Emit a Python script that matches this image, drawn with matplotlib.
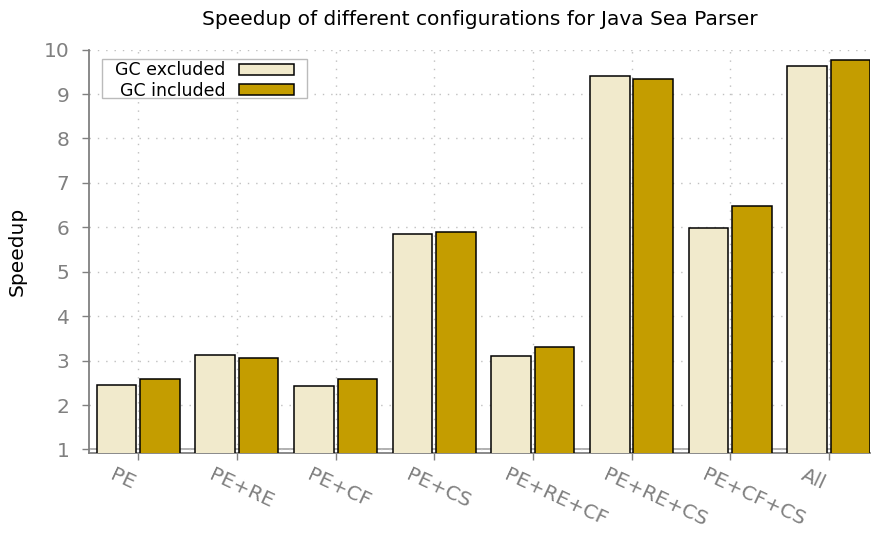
import numpy as np
import matplotlib
matplotlib.use("Agg")
import matplotlib.pyplot as plt
from matplotlib.patches import Rectangle
from matplotlib.transforms import ScaledTranslation

configs = ["PE", "PE+RE", "PE+CF", "PE+CS", "PE+RE+CF", "PE+RE+CS", "PE+CF+CS", "All"]
gc_excluded = [2.46, 3.13, 2.44, 5.85, 3.11, 9.41, 5.98, 9.62]
gc_included = [2.59, 3.06, 2.59, 5.89, 3.31, 9.34, 6.48, 9.76]
yticks = [1, 2, 3, 4, 5, 6, 7, 8, 9, 10]

grey = "#808080"
fig = plt.figure(figsize=(8.72, 5.33), dpi=100)
ax = fig.add_axes([0.102, 0.150, 0.896, 0.757])

x = np.arange(len(configs))
ax.bar(x - 0.22, gc_excluded, 0.40, color="#f1eacc", edgecolor="black",
       linewidth=1.1, label="  GC excluded", zorder=3)
ax.bar(x + 0.22, gc_included, 0.40, color="#c49d00", edgecolor="black",
       linewidth=1.1, label="  GC included", zorder=3)

ax.axhline(1, color="#aaaaaa", lw=1.3, zorder=1)
ax.set_xlim(-0.5, 7.42)
ax.set_ylim(0.92, 10)
ax.set_yticks(yticks)
ax.set_xticks(x)
ax.set_xticklabels(configs)
ax.grid(True, color="#c0c0c0", linestyle=(0, (1, 5)), linewidth=1, zorder=0)

for s in ["top", "right"]:
    ax.spines[s].set_visible(False)
for s in ["left", "bottom"]:
    ax.spines[s].set_color(grey)
    ax.spines[s].set_linewidth(1.3)
ax.spines["left"].set_bounds(0.92, 10)

ax.tick_params(axis="both", colors=grey, length=5, width=1)
ax.tick_params(axis="y", labelsize=14.5, pad=9)
ax.tick_params(axis="x", labelsize=14.5, pad=0)
off = ScaledTranslation(-19.5 / 72, -10 / 72, fig.dpi_scale_trans)
for lab in ax.get_xticklabels():
    lab.set_rotation(-25)
    lab.set_ha("left")
    lab.set_va("center")
    lab.set_rotation_mode("anchor")
    lab.set_transform(lab.get_transform() + off)

ax.set_ylabel("Speedup", fontsize=14.5, labelpad=12)
ax.set_title("Speedup of different configurations for Java Sea Parser",
             fontsize=14.5, pad=18)

leg = ax.legend(loc="upper left", bbox_to_anchor=(0.0166, 0.976), borderaxespad=0,
                markerfirst=False, fontsize=12.5, handlelength=3.17, handleheight=0.58,
                labelspacing=0.15, borderpad=0.12, handletextpad=0.8, frameon=False)
leg.set_zorder(6)
# gnuplot-style key box, a bit wider on the right than matplotlib's own frame
ax.add_patch(Rectangle((0.0166, 0.881), 0.2625, 0.0967, transform=ax.transAxes,
                       facecolor="white", edgecolor="#bbbbbb", lw=1, zorder=5))

fig.savefig("out.png", dpi=100)
